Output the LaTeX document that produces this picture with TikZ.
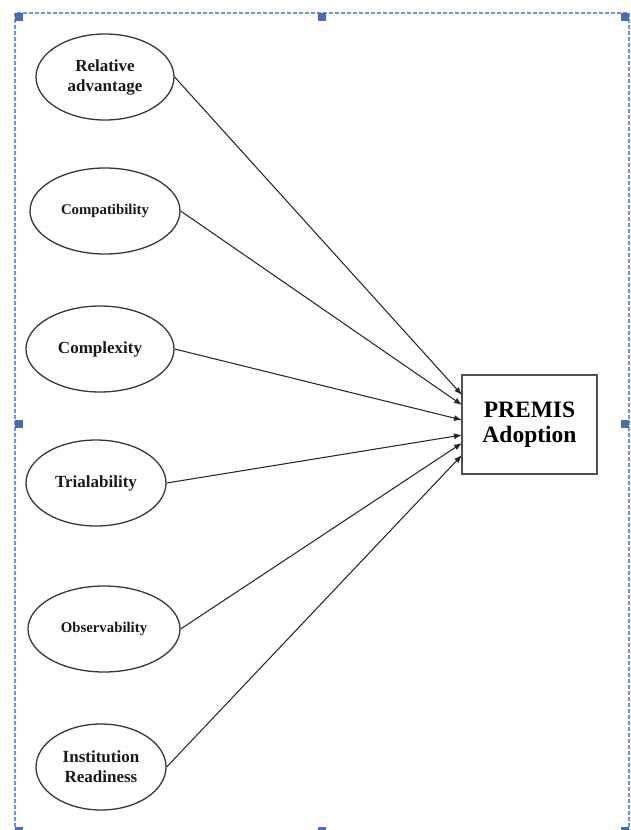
\documentclass[tikz,border=0pt]{standalone}
\usepackage{fontspec}
\setmainfont{Liberation Serif}
\usetikzlibrary{shapes.geometric,arrows.meta}
\definecolor{framecol}{RGB}{105,150,228}
\definecolor{handlecol}{RGB}{72,110,168}
\definecolor{outline}{RGB}{55,55,55}
\definecolor{boxline}{RGB}{80,80,80}
\begin{document}
\begin{tikzpicture}[x=1pt,y=-1pt,
  factor/.style={ellipse, draw=outline, line width=1.3pt, inner sep=0pt, align=center,
    font=\bfseries\fontsize{17}{20}\selectfont, text=black!90},
  smallfactor/.style={factor, font=\bfseries\fontsize{14.8}{17}\selectfont},
  outcome/.style={rectangle, draw=boxline, line width=1.6pt, minimum width=135pt,
    minimum height=99pt, align=center, font=\bfseries\fontsize{23.5}{25}\selectfont},
  link/.style={draw=black!85, line width=1.05pt, -{Latex[length=8pt,width=6pt]}},
  handle/.style={rectangle, fill=handlecol, draw=none, minimum size=8pt, inner sep=0pt}
]
\useasboundingbox (0,0) rectangle (631,830);
% selection frame
\draw[framecol, line width=1.3pt, dash pattern=on 4pt off 2pt] (15,13) rectangle (629,836);
\node[handle] (h1) at (19,17) {};
\node[handle] (h2) at (322,17) {};
\node[handle] (h3) at (625,17) {};
\node[handle] (h4) at (19,424) {};
\node[handle] (h5) at (625,424) {};
\node[handle] (h6) at (19,831) {};
\node[handle] (h7) at (322,831) {};
\node[handle] (h8) at (625,831) {};
% factors
\node[factor, minimum width=138pt, minimum height=86pt] (ra) at (105,77) {Relative\\advantage};
\node[smallfactor, minimum width=150pt, minimum height=86pt] (cp) at (105,211) {Compatibility};
\node[factor, minimum width=148pt, minimum height=86pt] (cx) at (100,349) {Complexity};
\node[factor, minimum width=140pt, minimum height=86pt] (tr) at (96,483) {Trialability};
\node[smallfactor, minimum width=152pt, minimum height=86pt] (ob) at (104,629) {Observability};
\node[factor, minimum width=130pt, minimum height=86pt] (ir) at (101,767) {Institution\\Readiness};
% outcome
\node[outcome] (pa) at (529.5,424.5) {PREMIS\\Adoption};
% arrow ends on the box's left side
\coordinate (e1) at (462,395);
\coordinate (e2) at (462,405);
\coordinate (e3) at (462,420);
\coordinate (e4) at (462,435);
\coordinate (e5) at (462,443);
\coordinate (e6) at (462,455);
\draw[link] (ra.east) -- (e1);
\draw[link] (cp.east) -- (e2);
\draw[link] (cx.east) -- (e3);
\draw[link] (tr.east) -- (e4);
\draw[link] (ob.east) -- (e5);
\draw[link] (ir.east) -- (e6);
\end{tikzpicture}
\end{document}
